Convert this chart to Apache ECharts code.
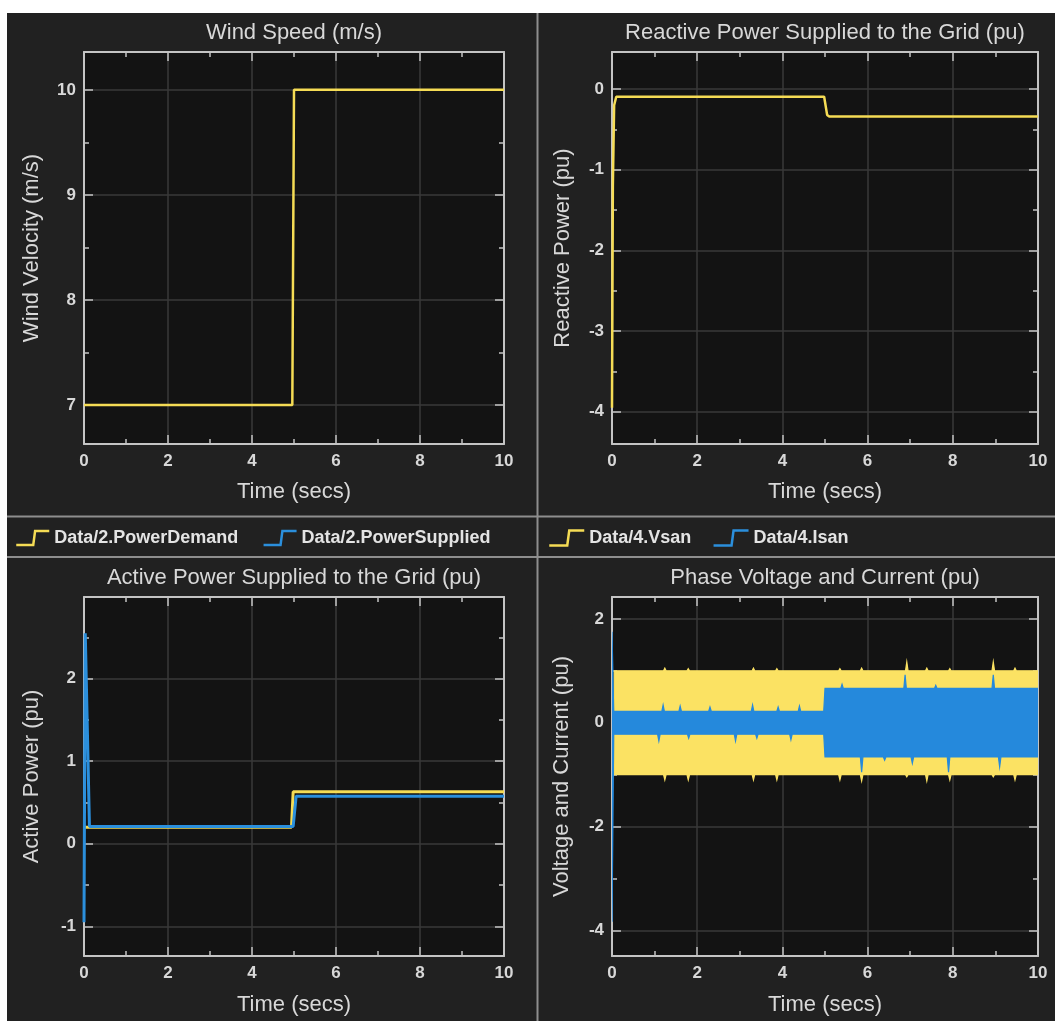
<!DOCTYPE html>
<html><head><meta charset="utf-8">
<script src="https://cdn.jsdelivr.net/npm/echarts@6/dist/echarts.min.js"></script>
<style>
html,body{margin:0;padding:0;background:#fff;width:1055px;height:1021px;overflow:hidden}
#bg{position:absolute;left:7px;top:13px;width:1048px;height:1008px;background:#212121}
#chart{position:absolute;left:0;top:0;width:1055px;height:1021px}
</style></head><body>
<div id="bg"></div><div id="chart"></div>
<script>
// ---------- data ----------
const timeTicks = [0, 2, 4, 6, 8, 10];

const windTicks = [7, 8, 9, 10];
const windT = [0, 4.96, 5.0, 10];
const windV = [7, 7, 10, 10];

const reacTicks = [-4, -3, -2, -1, 0];
const reacT = [0, 0.02, 0.05, 0.1, 4.98, 5.05, 5.1, 10];
const reacV = [-3.95, -1.2, -0.2, -0.095, -0.095, -0.32, -0.34, -0.34];

const actTicks = [-1, 0, 1, 2];
const demandT = [0, 4.94, 4.98, 10];
const demandV = [0.2, 0.2, 0.63, 0.63];
const supplyT = [0, 0.03, 0.13, 4.98, 5.05, 10];
const supplyV = [-0.95, 2.55, 0.21, 0.21, 0.575, 0.575];

const phaseTicks = [-4, -2, 0, 2];
// Vsan envelope (upper / lower edge of the dense sine band)
const vUpT = [0.05, 1.21, 1.24, 1.27, 1.76, 1.79, 1.82, 3.29, 3.32, 3.35, 3.84, 3.87, 3.90, 5.32, 5.35, 5.38, 5.83, 5.86, 5.89, 6.89, 6.92, 6.95, 7.36, 7.39, 7.42, 7.90, 7.93, 7.96, 8.92, 8.95, 8.98, 9.43, 9.46, 9.49, 10];
const vUpV = [1.0, 1.0, 1.05, 1.0, 1.0, 1.04, 1.0, 1.0, 1.05, 1.0, 1.0, 1.04, 1.0, 1.0, 1.04, 1.0, 1.0, 1.05, 1.0, 1.0, 1.17, 1.0, 1.0, 1.05, 1.0, 1.0, 1.04, 1.0, 1.0, 1.17, 1.0, 1.0, 1.05, 1.0, 1.0];
const vLoT = [0.05, 1.21, 1.24, 1.27, 1.76, 1.79, 1.82, 3.29, 3.32, 3.35, 3.84, 3.87, 3.90, 5.32, 5.35, 5.38, 5.83, 5.86, 5.89, 6.89, 6.92, 6.95, 7.36, 7.39, 7.42, 7.90, 7.93, 7.96, 8.92, 8.95, 8.98, 9.43, 9.46, 9.49, 10];
const vLoV = [-1.0, -1.0, -1.1, -1.0, -1.0, -1.1, -1.0, -1.0, -1.1, -1.0, -1.0, -1.1, -1.0, -1.0, -1.1, -1.0, -1.0, -1.12, -1.0, -1.0, -1.04, -1.0, -1.0, -1.12, -1.0, -1.0, -1.1, -1.0, -1.0, -1.04, -1.0, -1.0, -1.1, -1.0, -1.0];
// Isan envelope
const iUpT = [0, 0.04, 0.5, 1.17, 1.2, 1.23, 1.57, 1.6, 1.63, 2.27, 2.3, 2.33, 3.27, 3.3, 3.33, 3.87, 3.9, 3.93, 4.37, 4.4, 4.43, 4.97, 5.0, 5.37, 5.4, 5.43, 6.85, 6.88, 6.91, 7.57, 7.6, 7.63, 8.92, 8.95, 8.98, 10];
const iUpV = [1.75, 0.22, 0.22, 0.22, 0.34, 0.22, 0.22, 0.32, 0.22, 0.22, 0.3, 0.22, 0.22, 0.34, 0.22, 0.22, 0.3, 0.22, 0.22, 0.32, 0.22, 0.22, 0.66, 0.66, 0.74, 0.66, 0.66, 0.92, 0.66, 0.66, 0.72, 0.66, 0.66, 0.92, 0.66, 0.66];
const iLoT = [0, 0.04, 0.5, 1.07, 1.1, 1.13, 1.77, 1.8, 1.83, 2.87, 2.9, 2.93, 3.37, 3.4, 3.43, 4.17, 4.2, 4.23, 4.97, 5.0, 5.83, 5.86, 5.89, 6.37, 6.4, 6.43, 7.02, 7.05, 7.08, 7.87, 7.9, 7.93, 9.07, 9.1, 9.13, 10];
const iLoV = [-3.83, -0.22, -0.22, -0.22, -0.35, -0.22, -0.22, -0.3, -0.22, -0.22, -0.35, -0.22, -0.22, -0.3, -0.22, -0.22, -0.33, -0.22, -0.22, -0.66, -0.66, -0.95, -0.66, -0.66, -0.72, -0.66, -0.66, -0.78, -0.66, -0.66, -0.95, -0.66, -0.66, -0.85, -0.66, -0.66];

// ---------- styles ----------
const FONT = "'Liberation Sans', Arial, sans-serif";
const FRAME = '#c4c4c4', GRIDC = '#3a3a3a', TXT = '#d8d8d8';
const YEL = '#f5dc55', BLU = '#2b8fdc', YELB = '#fbe263', BLUB = '#2589dc';
const STEP = 'path://M0,15 L18,15 L20,0 L35,0';

const grids = [
  {left: 84, top: 52, width: 420, height: 392},
  {left: 612, top: 52, width: 426, height: 392},
  {left: 84, top: 597, width: 420, height: 359},
  {left: 612, top: 597, width: 426, height: 359}
].map(g => Object.assign({show: true, backgroundColor: '#131313', borderWidth: 0}, g));

const panels = [
  {title: 'Wind Speed (m/s)', yname: 'Wind Velocity (m/s)', min: 6.63, max: 10.36, split: 4, ticks: windTicks, ygap: 41},
  {title: 'Reactive Power Supplied to the Grid (pu)', yname: 'Reactive Power (pu)', min: -4.4, max: 0.46, split: 5, ticks: reacTicks, ygap: 38},
  {title: 'Active Power Supplied to the Grid (pu)', yname: 'Active Power (pu)', min: -1.36, max: 2.99, split: 5, ticks: actTicks, ygap: 41},
  {title: 'Phase Voltage and Current (pu)', yname: 'Voltage and Current (pu)', min: -4.49, max: 2.42, split: 4, ticks: phaseTicks, ygap: 39}
];

const lineCommon = {show: true, onZero: false, lineStyle: {color: FRAME, width: 2}};
const tickCommon = {show: true, inside: true, length: 9, lineStyle: {color: FRAME, width: 1.5}};
const minorCommon = {show: true, splitNumber: 2, length: 5, lineStyle: {color: FRAME, width: 1.5}};
const labelStyle = {color: TXT, fontFamily: FONT, fontSize: 17, fontWeight: 'bold'};
const nameStyle = {color: TXT, fontFamily: FONT, fontSize: 22};

const xAxis = [], yAxis = [];
panels.forEach((p, g) => {
  xAxis.push({
    type: 'value', gridIndex: g, position: 'bottom', min: 0, max: 10, interval: 2,
    name: 'Time (secs)', nameLocation: 'middle', nameGap: g < 2 ? 37 : 38, nameTextStyle: nameStyle,
    axisLine: lineCommon, axisTick: tickCommon, minorTick: minorCommon,
    axisLabel: Object.assign({margin: 9, formatter: v => timeTicks.includes(v) ? String(v) : ''}, labelStyle),
    splitLine: {show: true, lineStyle: {color: GRIDC, width: 1.5}}
  });
  xAxis.push({
    type: 'value', gridIndex: g, position: 'top', min: 0, max: 10, interval: 2,
    name: p.title, nameLocation: 'middle', nameGap: 8, nameTextStyle: nameStyle,
    axisLine: lineCommon, axisTick: tickCommon, minorTick: minorCommon,
    axisLabel: {show: false}, splitLine: {show: false}
  });
  yAxis.push({
    type: 'value', gridIndex: g, position: 'left', min: p.min, max: p.max, splitNumber: p.split,
    name: p.yname, nameLocation: 'middle', nameGap: p.ygap, nameTextStyle: nameStyle,
    axisLine: lineCommon, axisTick: tickCommon, minorTick: minorCommon,
    axisLabel: Object.assign({margin: 8, showMinLabel: false, showMaxLabel: false,
      formatter: v => p.ticks.includes(v) ? String(v) : ''}, labelStyle),
    splitLine: {show: true, lineStyle: {color: GRIDC, width: 1.5}}
  });
  yAxis.push({
    type: 'value', gridIndex: g, position: 'right', min: p.min, max: p.max, splitNumber: p.split,
    axisLine: lineCommon, axisTick: tickCommon, minorTick: minorCommon,
    axisLabel: {show: false}, splitLine: {show: false}
  });
});

function lineSeries(name, T, V, color, g, w) {
  return {
    type: 'line', name, xAxisIndex: 2 * g, yAxisIndex: 2 * g,
    data: T.map((t, i) => [t, V[i]]), showSymbol: false, symbol: 'none',
    lineStyle: {color, width: w}, itemStyle: {color}, clip: true, z: 3
  };
}
function bandSeries(name, upT, upV, loT, loV, color, g) {
  const data = upT.map((t, i) => [t, upV[i]]).concat(loT.map((t, i) => [t, loV[i]]));
  return {
    type: 'custom', name, xAxisIndex: 2 * g, yAxisIndex: 2 * g, clip: true, z: 3,
    itemStyle: {color}, data, encode: {x: 0, y: 1},
    renderItem(params, api) {
      if (params.dataIndex !== 0) return;
      const pts = [];
      for (let i = 0; i < upT.length; i++) pts.push(api.coord([upT[i], upV[i]]));
      for (let i = loT.length - 1; i >= 0; i--) pts.push(api.coord([loT[i], loV[i]]));
      return {type: 'polygon', shape: {points: pts}, style: {fill: color, stroke: color, lineWidth: 1.2}};
    }
  };
}

const series = [
  lineSeries('Wind', windT, windV, YEL, 0, 2.5),
  lineSeries('Reactive', reacT, reacV, YEL, 1, 2.5),
  lineSeries('Data/2.PowerDemand', demandT, demandV, YEL, 2, 3),
  lineSeries('Data/2.PowerSupplied', supplyT, supplyV, BLU, 2, 3),
  bandSeries('Data/4.Vsan', vUpT, vUpV, vLoT, vLoV, YELB, 3),
  bandSeries('Data/4.Isan', iUpT, iUpV, iLoT, iLoV, BLUB, 3)
];

function legendItem(name, color) {
  return {name, icon: STEP, itemStyle: {color: 'rgba(0,0,0,0)', borderColor: color, borderWidth: 2.5}};
}
const legendText = {color: '#e4e4e4', fontFamily: FONT, fontSize: 18, fontWeight: 'bold'};
const legend = [
  {left: 15, top: 529, padding: 0, itemWidth: 33, itemHeight: 15, itemGap: 24, selectedMode: false,
   textStyle: legendText, data: [legendItem('Data/2.PowerDemand', YEL), legendItem('Data/2.PowerSupplied', BLU)]},
  {left: 548, top: 529, padding: 0, itemWidth: 35, itemHeight: 15, itemGap: 21, selectedMode: false,
   textStyle: legendText, data: [legendItem('Data/4.Vsan', YEL), legendItem('Data/4.Isan', BLU)]}
];

const DIV = '#8e8e8e';
const graphic = [
  {type: 'line', shape: {x1: 537.5, y1: 13, x2: 537.5, y2: 1021}, style: {stroke: DIV, lineWidth: 2}, z: 10},
  {type: 'line', shape: {x1: 7, y1: 516.5, x2: 1055, y2: 516.5}, style: {stroke: DIV, lineWidth: 2}, z: 10},
  {type: 'line', shape: {x1: 7, y1: 557, x2: 1055, y2: 557}, style: {stroke: DIV, lineWidth: 2}, z: 10}
];

const chart = echarts.init(document.getElementById('chart'), null, {renderer: 'canvas'});
chart.setOption({
  animation: false, backgroundColor: 'transparent',
  grid: grids, xAxis, yAxis, series, legend, graphic,
  tooltip: {show: false}
});
</script>
</body></html>
